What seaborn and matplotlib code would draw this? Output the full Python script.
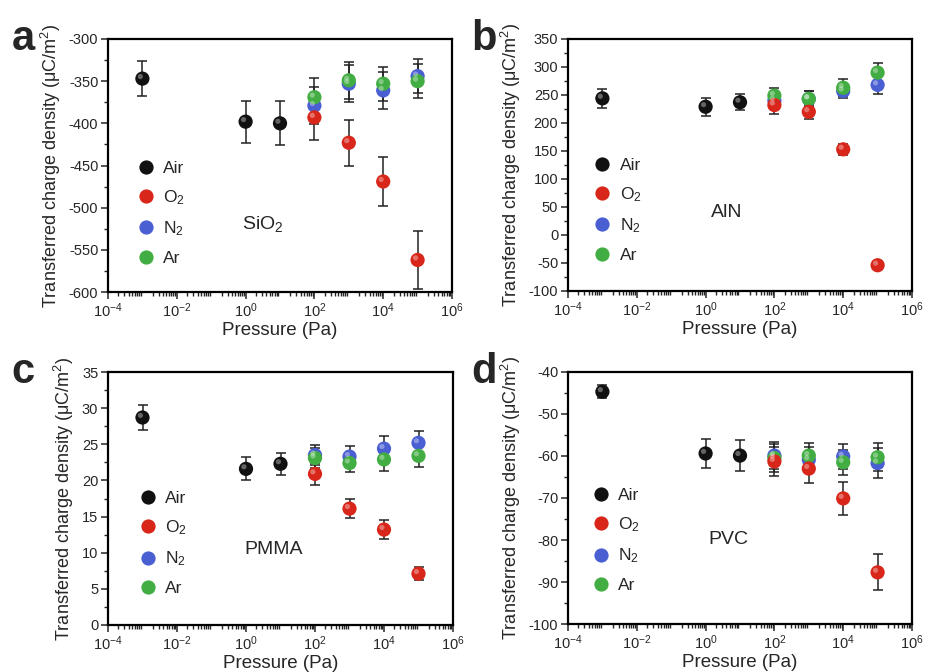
import numpy as np
import pandas as pd
import matplotlib
matplotlib.use('Agg')
import matplotlib.pyplot as plt
import matplotlib.transforms as mtransforms
from matplotlib.ticker import MultipleLocator, AutoMinorLocator, LogLocator, NullFormatter
import seaborn as sns

# Data
p_air = [1e-3, 1e0, 1e1]
p_gas = [1e2, 1e3, 1e4, 1e5]

# a: SiO2
sio2_air = [-347, -398, -400]
sio2_air_err = [21, 25, 26]
sio2_o2 = [-393, -423, -469, -562]
sio2_o2_err = [27, 27, 29, 34]
sio2_n2 = [-379, -353, -361, -344]
sio2_n2_err = [22, 22, 22, 20]
sio2_ar = [-369, -349, -353, -350]
sio2_ar_err = [23, 22, 20, 20]

# b: AlN
aln_air = [244, 229, 237]
aln_air_err = [17, 16, 14]
aln_o2 = [232, 220, 153, -54]
aln_o2_err = [16, 13, 10, 4]
aln_n2 = [240, 243, 257, 268]
aln_n2_err = [14, 14, 12, 16]
aln_ar = [249, 243, 263, 290]
aln_ar_err = [14, 14, 15, 18]

# c: PMMA
pmma_air = [28.7, 21.6, 22.3]
pmma_air_err = [1.7, 1.6, 1.5]
pmma_o2 = [20.9, 16.1, 13.2, 7.1]
pmma_o2_err = [1.5, 1.35, 1.3, 0.9]
pmma_n2 = [23.5, 23.3, 24.4, 25.2]
pmma_n2_err = [1.4, 1.4, 1.7, 1.7]
pmma_ar = [23.1, 22.4, 22.9, 23.4]
pmma_ar_err = [1.4, 1.3, 1.6, 1.6]

# d: PVC
pvc_air = [-44.7, -59.4, -59.9]
pvc_air_err = [1.5, 3.5, 3.7]
pvc_o2 = [-61.3, -63.0, -70.1, -87.7]
pvc_o2_err = [3.5, 3.5, 4.0, 4.3]
pvc_n2 = [-59.9, -60.9, -60.1, -61.7]
pvc_n2_err = [3.3, 3.0, 3.0, 3.5]
pvc_ar = [-60.5, -59.9, -61.5, -60.3]
pvc_ar_err = [3.3, 3.0, 3.0, 3.3]

gas_names = ['Air', 'O$_2$', 'N$_2$', 'Ar']
colors = {'Air': '#111111', 'O$_2$': '#d8261a', 'N$_2$': '#4a5fd2', 'Ar': '#42ad42'}

sns.set_style('ticks')
plt.rcParams['font.family'] = ['Liberation Sans', 'DejaVu Sans']
plt.rcParams['mathtext.fontset'] = 'custom'
plt.rcParams['mathtext.rm'] = 'Liberation Sans'
plt.rcParams['mathtext.it'] = 'Liberation Sans:italic'
plt.rcParams['mathtext.bf'] = 'Liberation Sans:bold'
plt.rcParams['axes.unicode_minus'] = False

fig = plt.figure(figsize=(9.3, 6.72), dpi=100)
W, H = 930, 672


def make_ax(left, top, right, bottom):
    return fig.add_axes([left / W, 1 - bottom / H, (right - left) / W, (bottom - top) / H])


def draw_panel(ax, air, air_e, o2, o2_e, n2, n2_e, ar, ar_e, ylim, ystep,
               letter, name, name_xy, leg_xy):
    series = {'Air': (p_air, air, air_e), 'O$_2$': (p_gas, o2, o2_e),
              'N$_2$': (p_gas, n2, n2_e), 'Ar': (p_gas, ar, ar_e)}
    # draw order: Air, N2, Ar, O2 (O2 on top)
    rows = []
    for g in ['Air', 'N$_2$', 'Ar', 'O$_2$']:
        xs, ys, es = series[g]
        for x, y, e in zip(xs, ys, es):
            rows.append({'p': x, 'q': y, 'err': e, 'gas': g})
    df = pd.DataFrame(rows)

    for g in ['Air', 'N$_2$', 'Ar', 'O$_2$']:
        sub = df[df.gas == g]
        ax.errorbar(sub.p, sub.q, yerr=sub.err, fmt='none', ecolor='#222222',
                    elinewidth=1.1, capsize=3.5, capthick=1.1, zorder=2)

    sns.scatterplot(data=df, x='p', y='q', hue='gas', hue_order=gas_names,
                    palette=colors, s=105, edgecolor='none', linewidth=0,
                    ax=ax, zorder=3, legend=True)
    # small highlight to give the spheres some shading
    hl = mtransforms.offset_copy(ax.transData, fig=fig, x=-1.5, y=1.5, units='points')
    ax.scatter(df.p, df.q, s=14, color='white', alpha=0.35, edgecolor='none',
               transform=hl, zorder=4)

    ax.set_xscale('log')
    ax.set_xlim(1e-4, 1e6)
    ax.set_ylim(*ylim)
    ax.xaxis.set_minor_locator(LogLocator(base=10, subs=np.arange(2, 10), numticks=20))
    ax.xaxis.set_minor_formatter(NullFormatter())
    ax.set_xticks([1e-4, 1e-2, 1e0, 1e2, 1e4, 1e6])
    ax.yaxis.set_major_locator(MultipleLocator(ystep))
    ax.yaxis.set_minor_locator(AutoMinorLocator(2))
    ax.tick_params(which='major', direction='out', length=5, width=1.1, labelsize=10.5, pad=2)
    ax.tick_params(which='minor', direction='out', length=3, width=1.0)
    for sp in ax.spines.values():
        sp.set_linewidth(1.6)
        sp.set_color('black')
        sp.set_visible(True)

    ax.set_xlabel('Pressure (Pa)', fontsize=13.5, labelpad=1)
    ax.set_ylabel('Transferred charge density (μC/m$^{2}$)', fontsize=13, labelpad=4)

    handles, labels = ax.get_legend_handles_labels()
    ax.legend(handles, labels, loc='upper left', bbox_to_anchor=leg_xy,
              frameon=False, fontsize=12.5, handletextpad=0.4,
              labelspacing=0.72, borderpad=0, borderaxespad=0,
              markerscale=1.0, handlelength=1.2)
    ax.text(name_xy[0], name_xy[1], name, transform=ax.transAxes, fontsize=14,
            ha='center', va='center')
    ax.text(-0.28, 1.08, letter, transform=ax.transAxes, fontsize=30,
            fontweight='bold', ha='left', va='top')


ax_a = make_ax(108, 39, 452, 292)
ax_b = make_ax(568, 39, 912, 291)
ax_c = make_ax(108, 372, 453, 625)
ax_d = make_ax(568, 372, 912, 624)

draw_panel(ax_a, sio2_air, sio2_air_err, sio2_o2, sio2_o2_err, sio2_n2, sio2_n2_err,
           sio2_ar, sio2_ar_err, (-600, -300), 50, 'a', 'SiO$_2$', (0.45, 0.27), (0.08, 0.52))
draw_panel(ax_b, aln_air, aln_air_err, aln_o2, aln_o2_err, aln_n2, aln_n2_err,
           aln_ar, aln_ar_err, (-100, 350), 50, 'b', 'AlN', (0.46, 0.31), (0.07, 0.53))
draw_panel(ax_c, pmma_air, pmma_air_err, pmma_o2, pmma_o2_err, pmma_n2, pmma_n2_err,
           pmma_ar, pmma_ar_err, (0, 35), 5, 'c', 'PMMA', (0.48, 0.30), (0.085, 0.53))
draw_panel(ax_d, pvc_air, pvc_air_err, pvc_o2, pvc_o2_err, pvc_n2, pvc_n2_err,
           pvc_ar, pvc_ar_err, (-100, -40), 10, 'd', 'PVC', (0.465, 0.335), (0.065, 0.54))

fig.savefig('out.png', dpi=100)
